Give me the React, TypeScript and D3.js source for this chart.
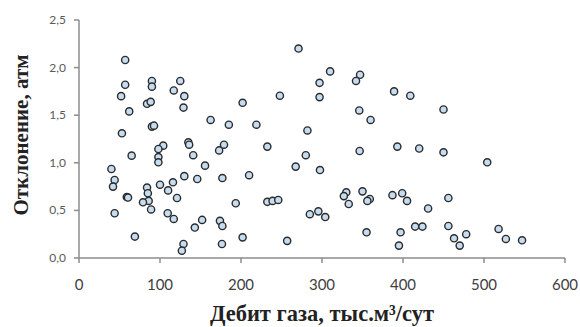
import React from "react";
import * as d3 from "d3";

const gasRate: number[] = [
  57, 57, 52, 62, 53, 90, 90, 84, 88.5, 90, 92.6, 125, 117, 130, 129, 162.5, 185, 202,
  135, 136, 104, 98, 98, 98, 65, 141, 179, 173, 155.6, 40, 44, 42, 84, 85, 100, 116, 110,
  130, 146, 177, 59, 60.5, 121, 86, 79, 89, 193.5, 44, 109.5, 117, 152, 143, 174, 177, 69,
  129, 127, 176.5, 271, 310, 297, 347, 342, 389, 248, 297, 346, 360, 219, 282, 232.5, 280,
  346.5, 267.5, 297.5, 210, 232.5, 239, 246, 330, 327, 333, 350, 359, 356, 387, 285, 295.5,
  304, 202, 257, 355, 409, 450, 393, 420, 450, 504, 399, 405, 456, 431, 397, 395, 415, 424,
  456, 463, 478, 470, 518, 527, 547,
];
const deviation: number[] = [
  2.08, 1.82, 1.7, 1.54, 1.31, 1.86, 1.8, 1.62, 1.64, 1.38, 1.39, 1.86, 1.76, 1.7, 1.58, 1.45, 1.4, 1.63,
  1.215, 1.19, 1.18, 1.145, 1.06, 1.005, 1.075, 1.08, 1.19, 1.13, 0.97, 0.935, 0.82, 0.75, 0.74, 0.68, 0.77, 0.795, 0.71,
  0.86, 0.83, 0.84, 0.64, 0.635, 0.63, 0.6, 0.585, 0.51, 0.575, 0.47, 0.47, 0.41, 0.4, 0.32, 0.39, 0.336, 0.225,
  0.147, 0.077, 0.147, 2.2, 1.96, 1.84, 1.925, 1.86, 1.75, 1.705, 1.69, 1.55, 1.45, 1.4, 1.34, 1.17, 1.08,
  1.124, 0.96, 0.924, 0.87, 0.59, 0.6, 0.61, 0.69, 0.65, 0.567, 0.7, 0.62, 0.6, 0.66, 0.46, 0.49,
  0.43, 0.217, 0.18, 0.27, 1.705, 1.56, 1.17, 1.15, 1.11, 1.005, 0.68, 0.6, 0.63, 0.52, 0.27, 0.13, 0.33, 0.33,
  0.336, 0.207, 0.25, 0.13, 0.305, 0.2, 0.186,
];
const xTicks: number[] = [0, 100, 200, 300, 400, 500, 600];
const yTicks: number[] = [0, 0.5, 1, 1.5, 2, 2.5];
const xTitle = "Дебит газа, тыс.м³/сут";
const yTitle = "Отклонение, атм";

export default function App() {
  const W = 580, H = 327;
  const x = d3.scaleLinear().domain([0, 600]).range([79, 565]);
  const y = d3.scaleLinear().domain([0, 2.5]).range([258, 20]);
  const axisColor = "#8c8c8c";
  const fmt = (v: number) => v.toFixed(1).replace(".", ",");
  const points = gasRate.map((g, i) => ({ g, d: deviation[i] }));
  return (
    <svg width={W} height={H} style={{ position: "absolute", left: 0, top: 0, background: "#fff" }}>
      {/* axes */}
      <line x1={x(0)} x2={x(600)} y1={y(0)} y2={y(0)} stroke={axisColor} strokeWidth={1.5} />
      <line x1={x(0)} x2={x(0)} y1={y(0)} y2={y(2.5)} stroke={axisColor} strokeWidth={1.5} />
      {yTicks.map((t) => (
        <g key={"y" + t}>
          <line x1={x(0) - 5} x2={x(0)} y1={y(t)} y2={y(t)} stroke={axisColor} strokeWidth={1.5} />
          <text x={66} y={y(t) + 4} textAnchor="end" fontFamily="Lato, 'Open Sans', sans-serif" fontSize={12} fill="#595959">
            {fmt(t)}
          </text>
        </g>
      ))}
      {xTicks.map((t) => (
        <g key={"x" + t}>
          <line x1={x(t)} x2={x(t)} y1={y(0)} y2={y(0) + 5} stroke={axisColor} strokeWidth={1.5} />
          <text x={x(t)} y={290} textAnchor="middle" fontFamily="Lato, 'Open Sans', sans-serif" fontSize={15} fill="#404040">
            {t}
          </text>
        </g>
      ))}
      {points.map((p, i) => (
        <circle key={i} cx={x(p.g)} cy={y(p.d)} r={3.6} fill="#c6dcf0" stroke="#2b2b2b" strokeWidth={1.4} />
      ))}
      <text x={322} y={321} textAnchor="middle" fontFamily="'Liberation Serif', 'DejaVu Serif', serif" fontWeight="bold" fontSize={22.5} fill="#222">
        {xTitle}
      </text>
      <text
        transform={`translate(28, 135) rotate(-90)`}
        textAnchor="middle"
        fontFamily="'Liberation Serif', 'DejaVu Serif', serif"
        fontWeight="bold"
        fontSize={21}
        fill="#222"
      >
        {yTitle}
      </text>
    </svg>
  );
}
